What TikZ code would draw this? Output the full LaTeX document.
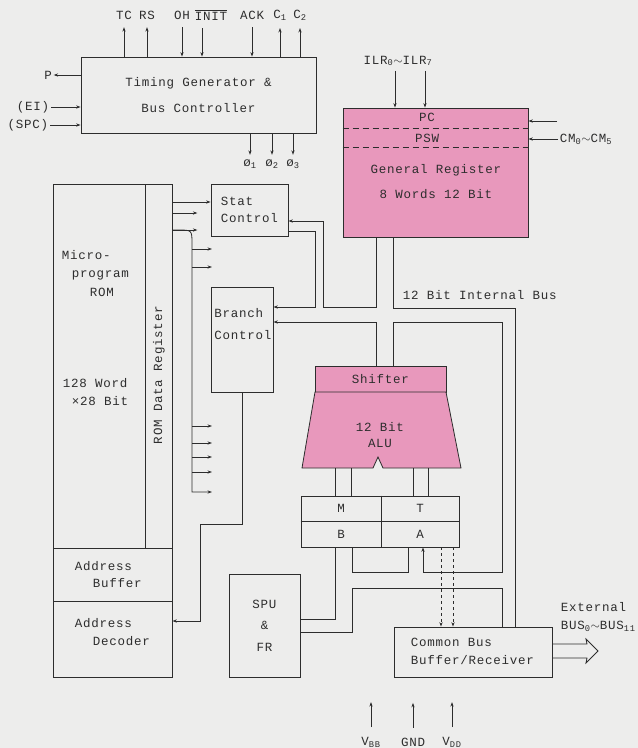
\documentclass[tikz,border=0pt]{standalone}
\usepackage{fontspec}
\newfontfamily\typefont[LetterSpace=6]{Liberation Mono}
\usetikzlibrary{arrows.meta}
\definecolor{paper}{RGB}{237,237,236}
\definecolor{regpink}{RGB}{232,152,188}
\definecolor{ink}{RGB}{45,45,45}

\begin{document}
\begin{tikzpicture}[
        x=1pt, y=-1pt,
        >={Stealth[length=4.5pt,width=3.2pt]},
        line width=0.8pt,
        color=ink,
        every node/.style={
            font=\typefont\fontsize{12.5}{15}\selectfont,
            inner sep=1.5pt
        },
        blk/.style={
            draw,
            rectangle,
            inner sep=0pt
        },
        reg/.style={
            blk,
            fill=regpink
        },
        sep/.style={
            dash pattern=on 6pt off 4pt
        }
    ]
        \fill[paper] (0,0) rectangle (638,748);
        \useasboundingbox (0,0) rectangle (638,748);

        % timing generator
        \node[blk, minimum width=235pt, minimum height=76pt, align=center] (tg) at (198.5,95)
            {Timing Generator \&\\[11pt]Bus Controller};
        \node (tc) at (124,15) {TC};
        \node (rs) at (147,15) {RS};
        \node (oh) at (182,15) {OH};
        \node (init) at (211,15) {$\overline{\hbox{INIT}}$};
        \node (ack) at (252,15) {ACK};
        \node (c1) at (280,15) {C\textsubscript{1}};
        \node (c2) at (300,15) {C\textsubscript{2}};
        \draw[->, shorten >=6pt] (tg.north -| tc) -- (tc.south);
        \draw[->, shorten >=6pt] (tg.north -| rs) -- (rs.south);
        \draw[->, shorten <=6pt] (oh.south) -- (tg.north -| oh);
        \draw[->, shorten <=6pt] (init.south -| 202,0) -- (tg.north -| 202,0);
        \draw[->, shorten <=6pt] (ack.south) -- (tg.north -| ack);
        \draw[->, shorten >=6pt] (tg.north -| c1) -- (c1.south);
        \draw[->, shorten >=6pt] (tg.north -| c2) -- (c2.south);

        \node (p) at (48,75) {P};
        \node (ei) at (33,107) {(EI)};
        \node (spc) at (28,125) {(SPC)};
        \draw[->] (tg.west |- p) -- (p);
        \draw[->] (ei) -- (tg.west |- ei);
        \draw[->] (spc) -- (tg.west |- spc);

        \node (ph1) at (250,164) {ø\textsubscript{1}};
        \node (ph2) at (272,164) {ø\textsubscript{2}};
        \node (ph3) at (293,164) {ø\textsubscript{3}};
        \draw[->, shorten >=3pt] (tg.south -| ph1) -- (ph1);
        \draw[->, shorten >=3pt] (tg.south -| ph2) -- (ph2);
        \draw[->, shorten >=3pt] (tg.south -| ph3) -- (ph3);

        % general register
        \node[reg, minimum width=185pt, minimum height=129pt] (gr) at (435.5,172.5) {};
        \draw[sep] (gr.west |- 0,128) -- (gr.east |- 0,128);
        \draw[sep] (gr.west |- 0,147) -- (gr.east |- 0,147);
        \node (pc) at (427,117) {PC};
        \node (psw) at (427,138) {PSW};
        \node[align=center] (grtxt) at (436,182) {General Register\\[10pt]8 Words 12 Bit};
        \node (ilr) at (398,61) {ILR\textsubscript{0}$\sim$ILR\textsubscript{7}};
        \draw[->, shorten <=3pt] (ilr.south -| 395,0) -- (gr.north -| 395,0);
        \draw[->, shorten <=3pt] (ilr.south -| 425,0) -- (gr.north -| 425,0);
        \coordinate (cmin) at (557,121);
        \node[anchor=west] (cm) at (558,139) {CM\textsubscript{0}$\sim$CM\textsubscript{5}};
        \draw[->] (cmin) -- (gr.east |- cmin);
        \draw[->] (cm) -- (gr.east |- cm);

        % control units
        \node[blk, minimum width=77pt, minimum height=52pt, align=left] (stat) at (249.5,210)
            {Stat\\[2pt]Control};
        \node[blk, minimum width=62pt, minimum height=105pt] (branch) at (242,339.5) {};
        \node[align=left] (brtxt) at (243,324) {Branch\\[7pt]Control};

        % microprogram rom
        \node[blk, minimum width=119pt, minimum height=493pt] (rom) at (112.5,430.5) {};
        \node[blk, minimum width=27pt, minimum height=364pt] (rdr) at (158.5,366) {};
        \node[blk, minimum width=119pt, minimum height=53pt] (abuf) at (112.5,574.5) {};
        \node[blk, minimum width=119pt, minimum height=76pt] (adec) at (112.5,639) {};
        \node[rotate=90] (rdrtxt) at (159,375) {ROM Data Register};
        \node[anchor=west] (mp1) at (60,255) {Micro-};
        \node[anchor=west] (mp2) at (70,275) {program};
        \node[anchor=west] (mp3) at (88,292) {ROM};
        \node[anchor=west] (mp4) at (61,383) {128 Word};
        \node[anchor=west] (mp5) at (70,401) {×28 Bit};
        \node[anchor=west] (ab1) at (73,566) {Address};
        \node[anchor=west] (ab2) at (91,583) {Buffer};
        \node[anchor=west] (ad1) at (73,623) {Address};
        \node[anchor=west] (ad2) at (91,641) {Decoder};

        % rom data register outputs
        \draw[->] (rdr.east |- 0,202) -- (stat.west |- 0,202);
        \draw[->] (rdr.east |- 0,213) -- ++(25,0);
        \draw[->] (rdr.east |- 0,230) -- ++(25,0);
        \draw[->] (rdr.east |- 0,230) -- (178,230) .. controls (192,230) .. (192,244)
            -- (192,492) -- (212,492);
        \foreach \y in {249,267,426,443,457,472}
            \draw[->] (192,\y) -- (212,\y);
        \draw[->] (branch.south) -- (branch.south |- 0,524) -- (200,524) -- (200,621)
            -- (adec.east |- 0,621);

        % shifter and alu
        \node[reg, minimum width=131pt, minimum height=26pt] (shifter) at (380.5,379) {Shifter};
        \draw[fill=regpink] (315,392) -- (446,392) -- (461,468) -- (383,468) -- (378,457)
            -- (373,468) -- (302,468) -- cycle;
        \node[align=center] (alu) at (380,435) {12 Bit\\[1pt]ALU};
        \coordinate (alubot) at (380,468);

        % working registers
        \node[blk, minimum width=158pt, minimum height=51pt] (mtba) at (380,521.5) {};
        \draw (mtba.west |- 0,521) -- (mtba.east |- 0,521);
        \draw (mtba.north -| 381,0) -- (mtba.south -| 381,0);
        \node (regm) at (341,508) {M};
        \node (regt) at (420,508) {T};
        \node (regb) at (341,534) {B};
        \node (rega) at (420,534) {A};
        \foreach \x in {335,351,413,428}
            \draw (alubot -| \x,0) -- (mtba.north -| \x,0);

        \node[blk, minimum width=71pt, minimum height=103pt, align=center] (spu) at (264.5,625.5)
            {SPU\\[6.5pt]\&\\[6.5pt]FR};
        \node[blk, minimum width=158pt, minimum height=50pt] (cbb) at (473,652) {};
        \node[anchor=west, align=left] (cbbtxt) at (409,651) {Common Bus\\[3pt]Buffer/Receiver};

        % internal bus
        \node[anchor=west] (busname) at (401,295) {12 Bit Internal Bus};
        \draw[->] (gr.south -| 376,0) -- (376,307) -- (323,307) -- (323,221) -- (stat.east |- 0,221);
        \draw[->] (stat.east |- 0,231) -- (315,231) -- (315,307) -- (branch.east |- 0,307);
        \draw[->] (shifter.north -| 376,0) -- (376,322) -- (branch.east |- 0,322);
        \draw (gr.south -| 393,0) -- (393,308) -- (515,308) -- (cbb.north -| 515,0);
        \draw[->] (shifter.north -| 393,0) -- (393,322) -- (502,322) -- (502,572) -- (423,572)
            -- (mtba.south -| 423,0);
        \draw (mtba.south -| 335,0) -- (335,619) -- (spu.east |- 0,619);
        \draw (mtba.south -| 352,0) -- (352,572) -- (408,572) -- (mtba.south -| 408,0);
        \draw (spu.east |- 0,632) -- (352,632) -- (352,588) -- (502,588) -- (cbb.north -| 502,0);
        \draw[dashed, ->] (mtba.south -| 441,0) -- (cbb.north -| 441,0);
        \draw[dashed, ->] (mtba.south -| 453,0) -- (cbb.north -| 453,0);

        % external bus
        \draw (cbb.east |- 0,644) -- (587,644) -- (586,639) -- (598,651) -- (586,663)
            -- (587,658) -- (cbb.east |- 0,658);
        \node[anchor=west] (ext) at (559,607) {External};
        \node[anchor=west] (extbus) at (559,626) {BUS\textsubscript{0}$\sim$BUS\textsubscript{11}};

        % supply
        \node (vbb) at (371,742) {V\textsubscript{BB}};
        \node (gnd) at (413,742) {GND};
        \node (vdd) at (452,742) {V\textsubscript{DD}};
        \draw[->] (vbb.north) ++(0,-8) -- ++(0,-25);
        \draw[->] (gnd.north) ++(0,-8) -- ++(0,-25);
        \draw[->] (vdd.north) ++(0,-8) -- ++(0,-25);
    \end{tikzpicture}
\end{document}
